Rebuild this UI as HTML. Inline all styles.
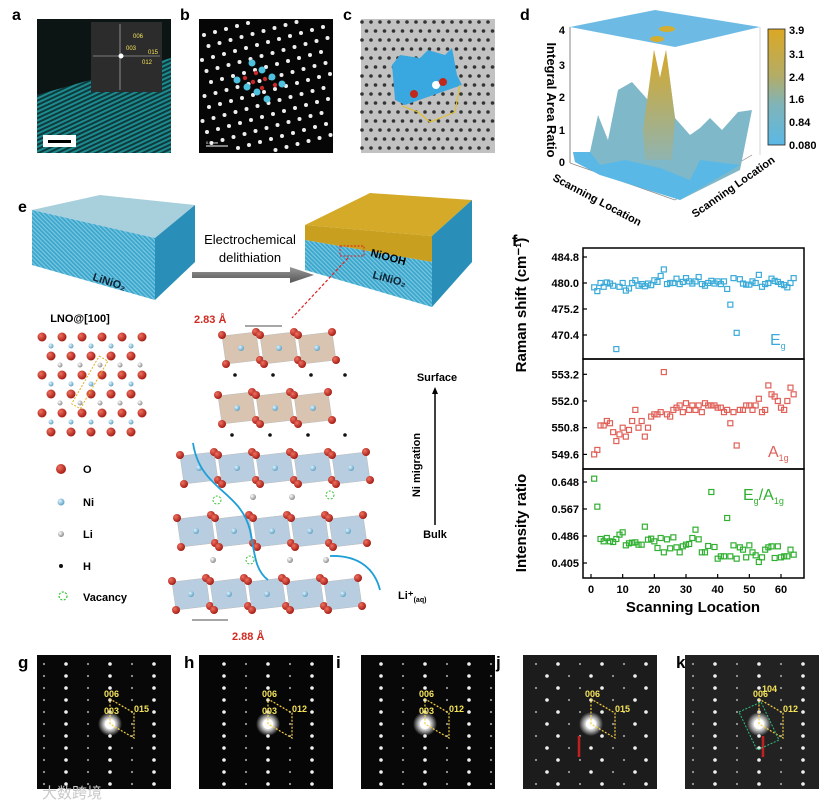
<!DOCTYPE html>
<html><head><meta charset="utf-8">
<style>
body{margin:0;background:#fff;}
#root{position:relative;width:828px;height:805px;overflow:hidden;font-family:"Liberation Sans",Arial,sans-serif;}
svg text{font-family:"Liberation Sans",Arial,sans-serif;}
</style></head>
<body>
<div id="root">
<svg id="fig" width="828" height="805" viewBox="0 0 828 805">
<defs>
<linearGradient id="cbar" x1="0" y1="0" x2="0" y2="1">
<stop offset="0" stop-color="#dba824"/><stop offset="0.4" stop-color="#b4ac66"/><stop offset="0.65" stop-color="#80b4b8"/><stop offset="1" stop-color="#5ab8e6"/>
</linearGradient>
<linearGradient id="peak" x1="0" y1="0" x2="0" y2="1"><stop offset="0" stop-color="#d8a828"/><stop offset="1" stop-color="#8fb4b0"/></linearGradient>
<linearGradient id="arrowg" x1="0" y1="0" x2="0" y2="1"><stop offset="0" stop-color="#999"/><stop offset="1" stop-color="#555"/></linearGradient>
<radialGradient id="ored" cx="0.35" cy="0.35" r="0.7"><stop offset="0" stop-color="#f07060"/><stop offset="1" stop-color="#a01810"/></radialGradient>
<radialGradient id="niblue" cx="0.35" cy="0.35" r="0.7"><stop offset="0" stop-color="#e0f4ff"/><stop offset="1" stop-color="#5a9ec0"/></radialGradient>
<radialGradient id="liwhite" cx="0.35" cy="0.35" r="0.7"><stop offset="0" stop-color="#fff"/><stop offset="1" stop-color="#888"/></radialGradient>
<radialGradient id="glow" cx="0.5" cy="0.5" r="0.5"><stop offset="0" stop-color="#fff"/><stop offset="0.4" stop-color="#eee"/><stop offset="1" stop-color="#fff" stop-opacity="0"/></radialGradient>
<pattern id="stripes" width="4" height="4" patternUnits="userSpaceOnUse" patternTransform="rotate(-25)"><rect width="4" height="4" fill="#0e3a3c"/><rect width="4" height="2" fill="#1c8a8e"/></pattern>
<pattern id="hatch" width="3" height="3" patternUnits="userSpaceOnUse" patternTransform="rotate(45)"><rect width="3" height="3" fill="#3aa6cc"/><rect width="3" height="1.2" fill="#7cc8e2"/></pattern>
</defs>

<!-- panel a -->
<text x="12" y="20" font-size="16" font-weight="bold">a</text>
<g>
<rect x="37" y="19" width="134" height="134" fill="#0c1414"/>
<polygon points="37,95 90,80 171,58 171,153 37,153" fill="url(#stripes)"/>
<rect x="91" y="22" width="71" height="70" fill="#2c2c2c"/>
<line x1="120" y1="24" x2="120" y2="90" stroke="#ccc" stroke-width="0.6"/>
<line x1="93" y1="56" x2="160" y2="56" stroke="#ccc" stroke-width="0.6"/>
<circle cx="121" cy="56" r="2.5" fill="#fff"/>
<text x="133" y="38" font-size="6" fill="#f5e35a">006</text>
<text x="126" y="50" font-size="6" fill="#f5e35a">003</text>
<text x="148" y="54" font-size="6" fill="#f5e35a">015</text>
<text x="142" y="64" font-size="6" fill="#f5e35a">012</text>
<rect x="43" y="135" width="33" height="12" fill="#fff"/>
<rect x="48" y="140" width="23" height="3" fill="#000"/>
</g>

<!-- panel b -->
<text x="180" y="20" font-size="16" font-weight="bold">b</text>
<g>
<rect x="199" y="19" width="134" height="134" fill="#060606"/>
<g id="blat"></g>
<line x1="206" y1="146" x2="228" y2="146" stroke="#fff" stroke-width="1"/>
<text x="206" y="144" font-size="4" fill="#fff">0.5 nm</text>
</g>

<!-- panel c -->
<text x="343" y="20" font-size="16" font-weight="bold">c</text>
<g>
<rect x="361" y="19" width="134" height="134" fill="#c2c2c2"/>
<g id="clat"></g>
<polygon points="392,65 400,55 420,58 428,50 445,55 452,48 457,75 462,85 405,105 395,100" fill="#3aa8e0"/>
<circle cx="414" cy="94" r="4" fill="#c0281c"/><circle cx="436" cy="85" r="4" fill="#fff"/><circle cx="443" cy="82" r="4" fill="#c0281c"/>
<polyline points="402,106 418,112 430,122 455,112 460,85" fill="none" stroke="#e0c030" stroke-width="1.2"/>
</g>

<!-- panel d -->
<text x="520" y="20" font-size="16" font-weight="bold">d</text>
<g>
<polygon points="570,27 655,10 760,27 675,47" fill="#6dbbe4"/>
<ellipse cx="667" cy="29" rx="8" ry="3" fill="#d4ae30"/><ellipse cx="657" cy="39" rx="7" ry="3" fill="#d4ae30"/>
<line x1="570" y1="27" x2="570" y2="163" stroke="#666" stroke-width="0.8"/>
<line x1="760" y1="27" x2="760" y2="155" stroke="#bbb" stroke-width="0.6"/>
<line x1="570" y1="163" x2="675" y2="200" stroke="#888" stroke-width="0.7"/>
<line x1="675" y1="200" x2="752" y2="155" stroke="#888" stroke-width="0.7"/>
<polygon points="573,152 590,152 598,115 608,140 618,90 632,82 648,100 654,50 660,78 666,50 675,118 690,135 700,128 710,118 722,130 738,112 752,110 740,170 680,200 650,180 600,175 575,162" fill="#7fb8c8"/>
<polygon points="573,152 590,152 600,165 625,160 660,168 690,180 700,160 740,165 680,200 600,175 575,162" fill="#5ab8e6"/>
<polygon points="643,130 654,50 660,78 666,50 675,118 672,160 645,160" fill="url(#peak)"/>
<text x="565" y="166" font-size="11" font-weight="bold" text-anchor="end">0</text>
<text x="565" y="134" font-size="11" font-weight="bold" text-anchor="end">1</text>
<text x="565" y="101" font-size="11" font-weight="bold" text-anchor="end">2</text>
<text x="565" y="69" font-size="11" font-weight="bold" text-anchor="end">3</text>
<text x="565" y="34" font-size="11" font-weight="bold" text-anchor="end">4</text>
<text x="547" y="100" font-size="13" font-weight="bold" text-anchor="middle" transform="rotate(90 547 100)">Integral Area Ratio</text>
<text x="552" y="180" font-size="11" font-weight="bold" transform="rotate(28 552 180)">Scanning Location</text>
<text x="695" y="218" font-size="11" font-weight="bold" transform="rotate(-35 695 218)">Scanning Location</text>
<rect x="768" y="29" width="17" height="116" fill="url(#cbar)" stroke="#222" stroke-width="0.8"/>
<text x="789" y="34" font-size="11" font-weight="bold">3.9</text><text x="789" y="58" font-size="11" font-weight="bold">3.1</text>
<text x="789" y="81" font-size="11" font-weight="bold">2.4</text><text x="789" y="103" font-size="11" font-weight="bold">1.6</text>
<text x="789" y="126" font-size="11" font-weight="bold">0.84</text><text x="789" y="149" font-size="11" font-weight="bold">0.080</text>
</g>

<!-- panel e -->
<text x="18" y="212" font-size="16" font-weight="bold">e</text>
<g>
<polygon points="32,210 100,195 195,205 155,238" fill="#a8cfdc"/>
<polygon points="32,210 155,238 155,300 32,265" fill="url(#hatch)"/>
<polygon points="155,238 195,205 195,262 155,300" fill="#2a8fb8"/>
<text x="92" y="280" font-size="11" font-weight="bold" fill="#123" transform="rotate(18 92 280)">LiNiO₂</text>
</g>
<text x="250" y="244" font-size="13" text-anchor="middle">Electrochemical</text>
<text x="250" y="262" font-size="13" text-anchor="middle">delithiation</text>
<polygon points="192,272 290,272 290,267 314,275 290,283 290,278 192,278" fill="url(#arrowg)"/>
<g>
<polygon points="305,225 370,193 472,200 432,236" fill="#d4aa28"/>
<polygon points="305,225 432,236 432,262 305,240" fill="#c99f20"/>
<polygon points="305,240 432,262 432,307 305,270" fill="url(#hatch)"/>
<polygon points="432,236 472,200 472,262 432,307" fill="#2a8fb8"/>
<text x="370" y="256" font-size="11" font-weight="bold" transform="rotate(15 370 256)">NiOOH</text>
<text x="372" y="278" font-size="11" font-weight="bold" fill="#123" transform="rotate(15 372 278)">LiNiO₂</text>
<rect x="340" y="246" width="24" height="10" fill="none" stroke="#e02020" stroke-dasharray="2,1.5"/>
<line x1="348" y1="258" x2="292" y2="318" stroke="#e02020" stroke-dasharray="3,2" stroke-width="1.2"/>
</g>
<text x="80" y="322" font-size="11" font-weight="bold" text-anchor="middle">LNO@[100]</text>
<g id="lnolat"></g>

<g>
<circle cx="61" cy="469" r="5" fill="url(#ored)"/><text x="83" y="473" font-size="11" font-weight="bold">O</text>
<circle cx="61" cy="502" r="3.5" fill="url(#niblue)"/><text x="83" y="506" font-size="11" font-weight="bold">Ni</text>
<circle cx="61" cy="534" r="3" fill="url(#liwhite)"/><text x="83" y="538" font-size="11" font-weight="bold">Li</text>
<circle cx="61" cy="566" r="2" fill="#111"/><text x="83" y="570" font-size="11" font-weight="bold">H</text>
<circle cx="63" cy="596" r="4" fill="none" stroke="#30c030" stroke-dasharray="2,1.5" stroke-width="1.2"/><text x="83" y="601" font-size="11" font-weight="bold">Vacancy</text>
</g>

<g id="struct"></g>
<text x="194" y="323" font-size="11" font-weight="bold" fill="#d02a20">2.83 Å</text>
<line x1="245" y1="326" x2="282" y2="326" stroke="#888" stroke-width="1.5"/>
<text x="232" y="640" font-size="11" font-weight="bold" fill="#d02a20">2.88 Å</text>
<line x1="192" y1="620" x2="228" y2="620" stroke="#888" stroke-width="1.5"/>
<text x="398" y="599" font-size="11" font-weight="bold">Li⁺<tspan font-size="7" dy="3">(aq)</tspan></text>

<g>
<text x="437" y="381" font-size="11" font-weight="bold" text-anchor="middle">Surface</text>
<line x1="435" y1="525" x2="435" y2="392" stroke="#000" stroke-width="1.5"/>
<polygon points="432,394 438,394 435,387" fill="#000"/>
<text x="420" y="465" font-size="11" font-weight="bold" text-anchor="middle" transform="rotate(-90 420 465)">Ni migration</text>
<text x="435" y="538" font-size="11" font-weight="bold" text-anchor="middle">Bulk</text>
</g>

<!-- panel f -->
<text x="512" y="246" font-size="16" font-weight="bold">f</text>
<g id="chart"></g>

<!-- bottom row -->
<g id="bottom"></g>
<text x="42" y="798" font-size="15" fill="#c8c8c8" style="font-family:'Liberation Sans','Noto Sans CJK SC',sans-serif">大数跨境</text>
</svg>
</div>
<script>
// ---------- chart data (panel f) ----------
const scanLocation = [1,2,3,4,5,6,7,8,9,10,11,12,13,14,15,16,17,18,19,20,21,22,23,24,25,26,27,28,29,30,31,32,33,34,35,36,37,38,39,40,41,42,43,44,45,46,47,48,49,50,51,52,53,54,55,56,57,58,59,60,61,62,63,64];
const egShift = [479.2,478.5,480,479.3,480.1,479.9,479.5,467.8,479.3,480,478.6,479,480,480.5,479.5,479.8,479.4,479.9,479.6,480.5,480.2,481.3,482.5,479.8,480,480,480.8,479.8,480.2,480.9,480.3,479.9,480.3,481.1,479.8,479.5,480,480.4,479.9,480.3,479.8,480.3,478.9,476,480.9,470.8,480.7,479.9,479.7,479.7,480.3,480,481.5,479.3,479.8,480,480.8,480.4,480.2,479.8,479.6,479.2,480,480.9];
const a1gShift = [549.6,549.8,550.9,550.9,551.1,551,550.6,550.2,550.5,550.8,550.4,550.7,551.1,551.6,550.8,551.1,550.4,550.8,551.3,551.4,551.4,551.5,553.3,551.4,551.3,551.6,551.7,551.8,551.5,551.9,551.6,551.8,551.6,551.8,551.5,551.9,551.8,551.8,551.8,551.7,551.7,551.5,551.6,551,551.5,550,551.6,551.6,551.8,551.8,551.6,551.8,552.1,551.5,551.6,552.7,552.3,552.2,552,551.7,551.6,552,552.6,552.3];
const intensityRatio = [0.658,0.574,0.477,0.470,0.480,0.470,0.468,0.477,0.490,0.497,0.458,0.464,0.466,0.467,0.460,0.460,0.514,0.475,0.478,0.470,0.450,0.480,0.437,0.476,0.449,0.482,0.452,0.437,0.455,0.460,0.462,0.480,0.505,0.476,0.437,0.437,0.456,0.618,0.453,0.418,0.425,0.425,0.540,0.425,0.458,0.418,0.452,0.445,0.422,0.458,0.437,0.428,0.408,0.422,0.445,0.452,0.455,0.420,0.455,0.422,0.425,0.425,0.445,0.430];
const xTicks = [0,10,20,30,40,50,60];
const egTicks = [484.8,480.0,475.2,470.4];
const a1gTicks = [553.2,552.0,550.8,549.6];
const ratioTicks = [0.648,0.567,0.486,0.405];

const NS = 'http://www.w3.org/2000/svg';
function mk(tag, attrs, parent){const e=document.createElementNS(NS,tag);for(const k in attrs)e.setAttribute(k,attrs[k]);parent.appendChild(e);return e;}

(function(){
const chart=document.getElementById('chart');
const L=583,R=804;
const xS=v=>591+(v)*(781-591)/60;
const panels=[
 {top:248,bot:359,data:egShift,ticks:egTicks,y:v=>283-(v-480)*(26/4.8),color:'#3aaad8',name:'eg',label:'E',sub:'g',lx:770,ly:345},
 {top:359,bot:469,data:a1gShift,ticks:a1gTicks,y:v=>401-(v-552)*(26.7/1.2),color:'#e06058',name:'a1g',label:'A',sub:'1g',lx:768,ly:457},
 {top:469,bot:578,data:intensityRatio,ticks:ratioTicks,y:v=>482-(v-0.648)*(81/0.243),color:'#30b030',name:'ratio',label:'E',sub:'g',lx:743,ly:500}
];
panels.forEach((p,pi)=>{
 const fr=mk('rect',{x:L,y:p.top,width:R-L,height:p.bot-p.top,fill:'none',stroke:'#000','stroke-width':1.5},chart);
 
 
 p.ticks.forEach(t=>{
  const yy=p.y(t);
  mk('line',{x1:L,y1:yy,x2:L+4,y2:yy,stroke:'#000','stroke-width':1.2},chart);
  const tx=mk('text',{x:L-4,y:yy+4,'font-size':11,'font-weight':'bold','text-anchor':'end'},chart);
  tx.textContent=p.name==='ratio'?t.toFixed(3):t.toFixed(1);
  
  
 });
 p.data.forEach((v,i)=>{
  const r=mk('rect',{x:xS(scanLocation[i])-2.5,y:p.y(v)-2.5,width:5,height:5,fill:'none',stroke:p.color,'stroke-width':1.2},chart);
  
  
 });
 const lt=mk('text',{x:p.lx,y:p.ly,'font-size':16,fill:p.color},chart);
 
 
 lt.textContent=p.label;
 const sb=mk('tspan',{'font-size':9,dy:4},lt);sb.textContent=p.sub;
 if(p.name==='ratio'){const a=mk('tspan',{'font-size':16,dy:-4},lt);a.textContent='/A';const b=mk('tspan',{'font-size':9,dy:4},lt);b.textContent='1g';}
});
xTicks.forEach(t=>{
 const xx=xS(t);
 mk('line',{x1:xx,y1:578,x2:xx,y2:574,stroke:'#000','stroke-width':1.2},chart);
 const tx=mk('text',{x:xx,y:593,'font-size':11,'font-weight':'bold','text-anchor':'middle'},chart);
 tx.textContent=t;
 
 
});
const xt=mk('text',{x:693,y:612,'font-size':15,'font-weight':'bold','text-anchor':'middle'},chart);
xt.textContent='Scanning Location';


const y1=mk('text',{x:526,y:305,'font-size':15,'font-weight':'bold','text-anchor':'middle',transform:'rotate(-90 526 305)'},chart);
y1.textContent='Raman shift (cm⁻¹)';


const y2=mk('text',{x:526,y:523,'font-size':15,'font-weight':'bold','text-anchor':'middle',transform:'rotate(-90 526 523)'},chart);
y2.textContent='Intensity ratio';


})();

// ---------- decorative imagery ----------
(function(){
const b=document.getElementById('blat');
for(let r=0;r<12;r++)for(let c=0;c<14;c++){const x=201+c*11+r*4.5-30,y=24+r*11+c*-3+20;if(x>201&&x<331&&y>21&&y<151)mk('circle',{cx:x,cy:y,r:2,fill:'#eee'},b);}
[[252,63],[262,70],[237,80],[247,87],[272,77],[282,84],[257,92],[267,99]].forEach(p=>mk('circle',{cx:p[0],cy:p[1],r:3.5,fill:'#4cc0dc'},b));
[[245,78],[256,73],[253,82],[265,79],[262,88],[275,85]].forEach(p=>mk('circle',{cx:p[0],cy:p[1],r:2.2,fill:'#c82828'},b));
const c=document.getElementById('clat');
for(let r=0;r<15;r++)for(let k=0;k<16;k++){const x=362+k*9+(r%2)*4.5,y=22+r*9;if(x<494)mk('circle',{cx:x,cy:y,r:1.8,fill:'#333'},c);}
const l=document.getElementById('lnolat');
for(let r=0;r<6;r++)for(let k=0;k<6;k++){const x=42+k*20+(r%2)*9,y=337+r*19;if(x<150)mk('circle',{cx:x,cy:y,r:4.5,fill:'url(#ored)'},l);
 const xx=x+9,yy=y+9;if(xx<150&&r<5)mk('circle',{cx:xx,cy:yy,r:2.5,fill:r%2?'url(#liwhite)':'url(#niblue)'},l);}
mk('rect',{x:85,y:355,width:10,height:55,fill:'none',stroke:'#e0b020','stroke-dasharray':'2,1.5',transform:'rotate(30 90 382)'},l);
const s=document.getElementById('struct');
function layer(x0,y0,n,w,h,fill){for(let i=0;i<n;i++){const x=x0+i*w;
 mk('polygon',{points:`${x},${y0+4} ${x+w-4},${y0} ${x+w},${y0+h-4} ${x+4},${y0+h}`,fill:fill,stroke:'#bbb','stroke-width':0.5},s);
 mk('circle',{cx:x+w/2,cy:y0+h/2,r:3,fill:'url(#niblue)'},s);
 [[x,y0+3],[x+w-4,y0],[x+4,y0+h],[x+w,y0+h-4]].forEach(p=>mk('circle',{cx:p[0],cy:p[1],r:4,fill:'url(#ored)'},s));}}
layer(222,332,3,38,32,'#d8c4b0');
layer(218,392,3,38,32,'#d8c4b0');
[[235,375],[273,375],[311,375],[345,375],[232,435],[270,435],[308,435],[345,435]].forEach(p=>mk('circle',{cx:p[0],cy:p[1],r:1.8,fill:'#111'},s));
layer(180,452,5,38,32,'#b8cde0');
layer(177,515,5,38,32,'#b8cde0');
layer(172,578,5,38,32,'#b8cde0');
[[253,497],[292,497],[213,560],[290,560],[326,560]].forEach(p=>mk('circle',{cx:p[0],cy:p[1],r:3,fill:'url(#liwhite)'},s));
[[217,500],[330,495],[250,560]].forEach(p=>mk('circle',{cx:p[0],cy:p[1],r:4,fill:'none',stroke:'#30c030','stroke-dasharray':'2,1.5'},s));
mk('path',{d:'M193,443 C200,490 240,490 250,530 C255,555 255,570 268,580',fill:'none',stroke:'#1e9fd8','stroke-width':1.8},s);
mk('path',{d:'M330,556 C360,555 375,570 380,590',fill:'none',stroke:'#1e9fd8','stroke-width':1.8},s);

const bot=document.getElementById('bottom');
// label, labelx, x0, x1, centerX offset, labels, bg
const panelsB=[['g',10,37,171,110,'006','003','015','#080808'],['h',176,199,333,268,'006','003','012','#060606'],['i',328,361,495,425,'006','003','012','#080808'],['j',488,523,657,591,'006','','015','#1c1c1c'],['k',668,685,819,759,'006','104','012','#222']];
panelsB.forEach(p=>{
 const lab=mk('text',{x:p[1]+8,y:668,'font-size':17,'font-weight':'bold'},bot);lab.textContent=p[0];
 
 
 const rr=mk('rect',{x:p[2],y:655,width:134,height:134,fill:p[8]},bot);
 
 
 const cx=p[4],cy=724;
 for(let i=-5;i<=5;i++)for(let j=-7;j<=7;j++){const x=cx+i*22+(p[0]==='j'?(j%2?11:0):0),y=cy+j*12;if(x>p[2]+3&&x<p[3]-3&&y>658&&y<786){const big=(i%2===0);mk('circle',{cx:x,cy:y,r:big?1.8:1.1,fill:big?'#f0f0f0':'#999'},bot);}}
 mk('circle',{cx:cx,cy:cy,r:12,fill:'url(#glow)'},bot);
 mk('circle',{cx:cx,cy:cy,r:5,fill:'#fff'},bot);
 mk('polyline',{points:`${cx},${cy} ${cx},${cy-25} ${cx+24},${cy-11} ${cx+24},${cy+14} ${cx},${cy}`,fill:'none',stroke:'#f5d040','stroke-dasharray':'2,1.5','stroke-width':1.2},bot);
 const t1=mk('text',{x:cx-6,y:cy-27,'font-size':9,'font-weight':'bold',fill:'#f5e35a'},bot);t1.textContent=p[5];
 const t2=mk('text',{x:p[0]==='k'?cx+3:cx-6,y:p[0]==='k'?cy-32:cy-10,'font-size':9,'font-weight':'bold',fill:'#f5e35a'},bot);t2.textContent=p[6];
 const t3=mk('text',{x:cx+24,y:cy-12,'font-size':9,'font-weight':'bold',fill:'#f5e35a'},bot);t3.textContent=p[7];
 if(p[0]==='j'||p[0]==='k'){mk('line',{x1:cx-(p[0]==='j'?12:-4),y1:cy+33,x2:cx-(p[0]==='j'?12:-4),y2:cy+12,stroke:'#c02020','stroke-width':2.5},bot);}
 if(p[0]==='k'){mk('polygon',{points:`${cx-20},${cy-12} ${cx+2},${cy-22} ${cx+20},${cy+16} ${cx-2},${cy+26}`,fill:'none',stroke:'#30c080','stroke-dasharray':'2,1.5'},bot);}
});
})();
</script>
</body></html>
